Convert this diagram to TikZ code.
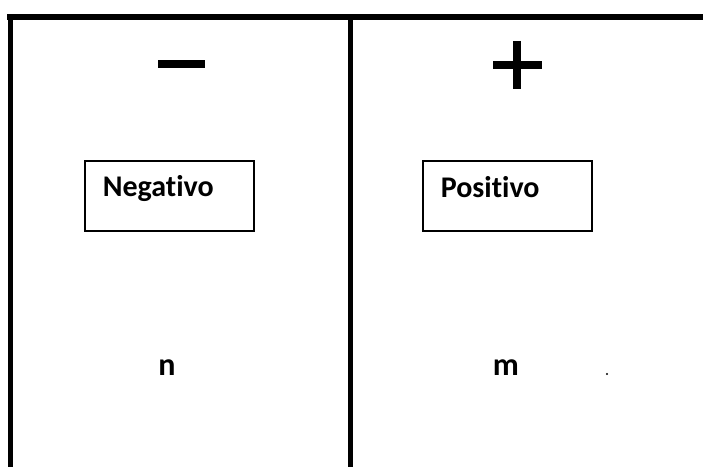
\documentclass[tikz,border=0pt]{standalone}
\usepackage{fontspec}
\setmainfont{Carlito}[Ligatures=NoCommon]
\usepackage{tikz}
\usetikzlibrary{calc}

\begin{document}
\begin{tikzpicture}[x=1pt, y=1pt, line width=1.6pt,
    borde/.style={line width=5pt},
    signo/.style={line width=8.5pt},
    caja/.style={draw, minimum width=169pt, minimum height=70pt, anchor=north west, inner sep=0pt},
    rotulo/.style={font=\bfseries\fontsize{30}{34}\selectfont, anchor=base west, inner sep=0pt},
    letra/.style={font=\bfseries\fontsize{32}{36}\selectfont, anchor=base, inner sep=0pt}]
    \useasboundingbox (0,0) rectangle (703,467);
    % marco de la tabla
    \coordinate (si) at (7,450);  \coordinate (sd) at (703,450);
    \coordinate (ii) at (10,0);   \coordinate (im) at (350,0);
    \draw[line width=6pt] (si)--(sd);
    \draw[borde] (10,452)--(ii);
    \draw[borde] (350,452)--(im);
    % signos
    \draw[signo] (158,403)--(205,403);
    \draw[signo] (493,402)--(542,402);
    \draw[signo] (517,426)--(517,378);
    % cajas
    \node[caja] (neg) at (84,307) {};
    \node[rotulo] (negtxt) at ($(neg.north west)+(18,-36)$) {Negativo};
    \node[caja] (pos) at (422,307) {};
    \node[rotulo] (postxt) at ($(pos.north west)+(18,-37)$) {Positivo};
    % letras
    \node[letra] (n) at (167,92) {n};
    \node[letra] (m) at (506,92) {m};
    \fill (607,93) circle (1.2pt);
\end{tikzpicture}
\end{document}
